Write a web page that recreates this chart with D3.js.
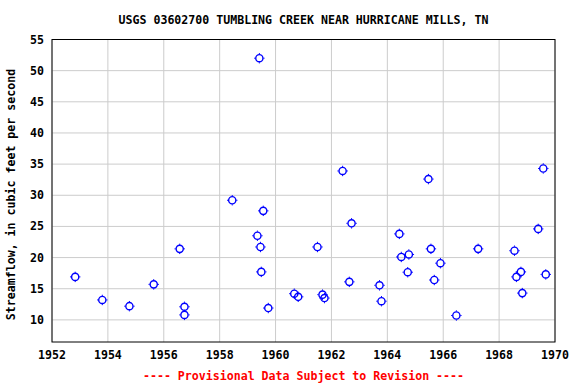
<!DOCTYPE html>
<html>
<head>
<meta charset="utf-8">
<script src="https://cdn.jsdelivr.net/npm/d3@7"></script>
<style>
  body { margin: 0; background: #fff; }
  svg text { font-family: "DejaVu Sans Mono", monospace; font-weight: bold; }
</style>
</head>
<body>
<svg id="chart" width="576" height="384"></svg>
<script>
// --- Data (decimal year, streamflow cfs) ---
const years = [
    1952.83, 1953.80, 1954.77, 1955.64, 1956.57, 1956.74, 1956.74, 1958.45,
    1959.42, 1959.56, 1959.35, 1959.46, 1959.49, 1959.74, 1960.67, 1960.81,
    1961.50, 1961.68, 1961.75, 1962.40, 1962.72, 1962.64, 1963.72, 1963.79,
    1964.43, 1964.50, 1964.77, 1964.73, 1965.47, 1965.56, 1965.90, 1965.68,
    1966.47, 1967.25, 1968.55, 1968.78, 1968.62, 1968.83, 1969.40, 1969.58,
    1969.67
];
const flows = [
    16.9, 13.2, 12.2, 15.7, 21.4, 12.1, 10.8, 29.2,
    52.0, 27.5, 23.5, 21.7, 17.7, 11.9, 14.2, 13.7,
    21.7, 14.05, 13.5, 33.9, 25.5, 16.1, 15.55, 13.0,
    23.8, 20.1, 20.5, 17.65, 32.6, 21.4, 19.1, 16.4,
    10.7, 21.4, 21.1, 17.7, 16.9, 14.3, 24.6, 34.3,
    17.3
];
const xTicks = [1952, 1954, 1956, 1958, 1960, 1962, 1964, 1966, 1968, 1970];
const yTicks = [10, 15, 20, 25, 30, 35, 40, 45, 50, 55];

const titleText = "USGS 03602700 TUMBLING CREEK NEAR HURRICANE MILLS, TN";
const yLabel = "Streamflow, in cubic feet per second";
const footer = "---- Provisional Data Subject to Revision ----";

// --- Layout ---
const plot = { left: 52, right: 555, top: 39.5, bottom: 342 };

const svg = d3.select("#chart");

const x = d3.scaleLinear().domain([1952, 1970]).range([plot.left, plot.right]);
const y = d3.scaleLinear().domain([6.45, 55]).range([plot.bottom, plot.top]);

// Grid lines
svg.append("g")
    .selectAll("line")
    .data(xTicks)
    .join("line")
    .attr("x1", d => x(d)).attr("x2", d => x(d))
    .attr("y1", plot.top).attr("y2", plot.bottom)
    .attr("stroke", "#cccccc").attr("stroke-width", 1);

svg.append("g")
    .selectAll("line")
    .data(yTicks)
    .join("line")
    .attr("x1", plot.left).attr("x2", plot.right)
    .attr("y1", d => y(d)).attr("y2", d => y(d))
    .attr("stroke", "#cccccc").attr("stroke-width", 1);

// Plot frame
svg.append("rect")
    .attr("x", plot.left).attr("y", plot.top)
    .attr("width", plot.right - plot.left).attr("height", plot.bottom - plot.top)
    .attr("fill", "none").attr("stroke", "#000").attr("stroke-width", 1);

// Tick labels
svg.append("g")
    .selectAll("text")
    .data(yTicks)
    .join("text")
    .attr("x", plot.left - 8)
    .attr("y", d => y(d) + 4)
    .attr("text-anchor", "end")
    .attr("font-size", "11.6px")
    .text(d => d);

svg.append("g")
    .selectAll("text")
    .data(xTicks)
    .join("text")
    .attr("x", d => x(d))
    .attr("y", 359)
    .attr("text-anchor", "middle")
    .attr("font-size", "11.6px")
    .text(d => d);

// Titles
svg.append("text")
    .attr("x", (plot.left + plot.right) / 2).attr("y", 24)
    .attr("text-anchor", "middle")
    .attr("font-size", "11.6px")
    .text(titleText);

svg.append("text")
    .attr("transform", `translate(15, ${(69 + 320) / 2}) rotate(-90)`)
    .attr("text-anchor", "middle")
    .attr("font-size", "11.6px")
    .text(yLabel);

svg.append("text")
    .attr("x", (plot.left + plot.right) / 2).attr("y", 380)
    .attr("text-anchor", "middle")
    .attr("font-size", "11.6px")
    .attr("fill", "#ff0000")
    .text(footer);

// Points: open circle with small cross ticks
const pts = years.map((yr, i) => ({ yr, v: flows[i] }));
const marks = svg.append("g")
    .selectAll("g")
    .data(pts)
    .join("g")
    .attr("transform", d => `translate(${x(d.yr)},${y(d.v)})`);

marks.append("circle")
    .attr("r", 3.6)
    .attr("fill", "none")
    .attr("stroke", "#0000ff")
    .attr("stroke-width", 1.4);

marks.append("path")
    .attr("d", "M0,-5.2V-4M0,4V5.2M-5.2,0H-4M4,0H5.2")
    .attr("stroke", "#0000ff")
    .attr("stroke-width", 1);
</script>
</body>
</html>
